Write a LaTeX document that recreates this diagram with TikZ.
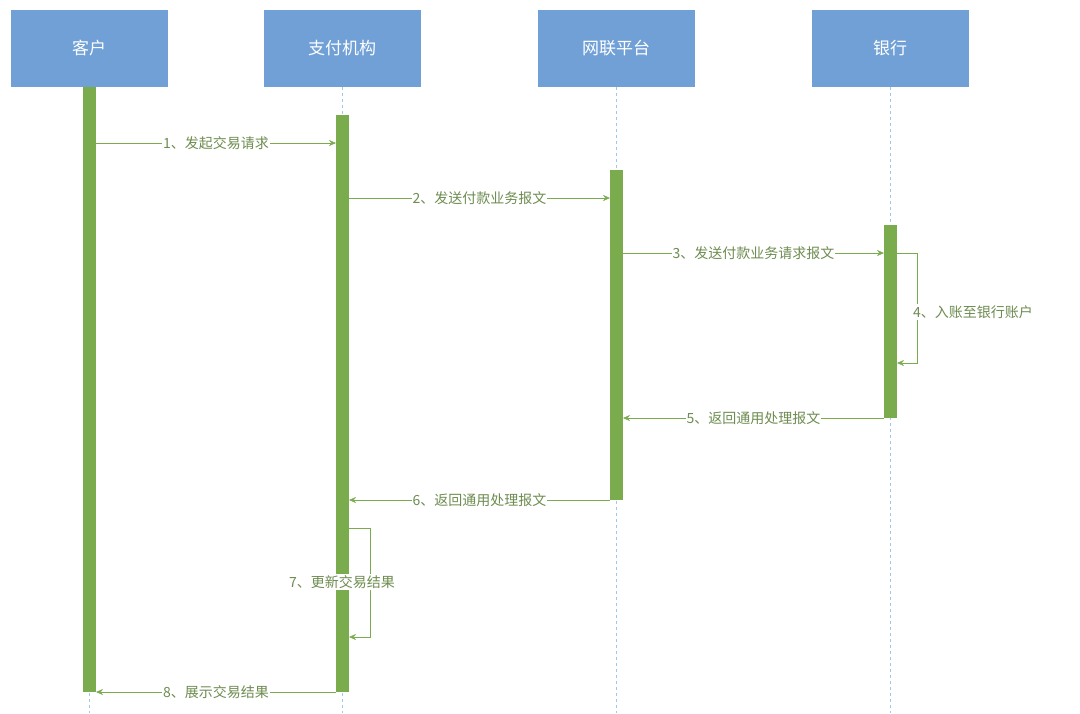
\documentclass[tikz,border=0pt]{standalone}
\usepackage{fontspec}
\setmainfont{Noto Sans CJK SC}
\usetikzlibrary{arrows.meta}
\definecolor{headblue}{RGB}{112,160,214}
\definecolor{bargreen}{RGB}{122,172,78}
\definecolor{msgtext}{RGB}{110,140,80}
\definecolor{lifeblue}{RGB}{160,200,235}
\tikzset{
  head/.style={fill=headblue, minimum width=157pt, minimum height=77pt, inner sep=0pt, text=white, font=\fontsize{17}{20}\selectfont},
  bar/.style={fill=bargreen, draw=none},
  msg/.style={draw=bargreen, -{Stealth[length=7pt,width=6pt]}},
  lbl/.style={fill=white, inner sep=1pt, text=msgtext, font=\fontsize{14}{17}\selectfont}
}
\begin{document}
\begin{tikzpicture}[x=1pt,y=-1pt]
    \useasboundingbox (0,0) rectangle (1080,713);
    % heads
    \node[head] (kh) at (89,48) {客户};
    \node[head] (zf) at (342,48) {支付机构};
    \node[head] (wl) at (616,48) {网联平台};
    \node[head] (yh) at (890,48) {银行};
    % lifelines
    \foreach \h in {kh,zf,wl,yh}
        \draw[lifeblue, dashed] (\h.south) -- ++(0,626);
    % activation bars
    \fill[bar] (83,87) rectangle (96,692);
    \fill[bar] (336,115) rectangle (349,692);
    \fill[bar] (610,170) rectangle (623,500);
    \fill[bar] (884,225) rectangle (897,418);
    % messages
    \coordinate (m1a) at (96,143);  \coordinate (m1b) at (336,143);
    \coordinate (m2a) at (349,198); \coordinate (m2b) at (610,198);
    \coordinate (m3a) at (623,253); \coordinate (m3b) at (884,253);
    \coordinate (m4a) at (897,253); \coordinate (m4b) at (897,363);
    \coordinate (m5a) at (884,418); \coordinate (m5b) at (623,418);
    \coordinate (m6a) at (610,500); \coordinate (m6b) at (349,500);
    \coordinate (m7a) at (349,528); \coordinate (m7b) at (349,637);
    \coordinate (m8a) at (336,692); \coordinate (m8b) at (96,692);
    \draw[msg] (m1a) -- node[lbl] (l1) {1、发起交易请求} (m1b);
    \draw[msg] (m2a) -- node[lbl] (l2) {2、发送付款业务报文} (m2b);
    \draw[msg] (m3a) -- node[lbl] (l3) {3、发送付款业务请求报文} (m3b);
    \draw[msg] (m4a) -- ++(20,0) -- ++(0,110) -- (m4b);
    \node[lbl, anchor=west] (l4) at (912,312) {4、入账至银行账户};
    \draw[msg] (m5a) -- node[lbl] (l5) {5、返回通用处理报文} (m5b);
    \draw[msg] (m6a) -- node[lbl] (l6) {6、返回通用处理报文} (m6b);
    \draw[msg] (m7a) -- ++(21,0) -- ++(0,109) -- (m7b);
    \node[lbl] (l7) at (342,582) {7、更新交易结果};
    \draw[msg] (m8a) -- node[lbl] (l8) {8、展示交易结果} (m8b);
\end{tikzpicture}
\end{document}
